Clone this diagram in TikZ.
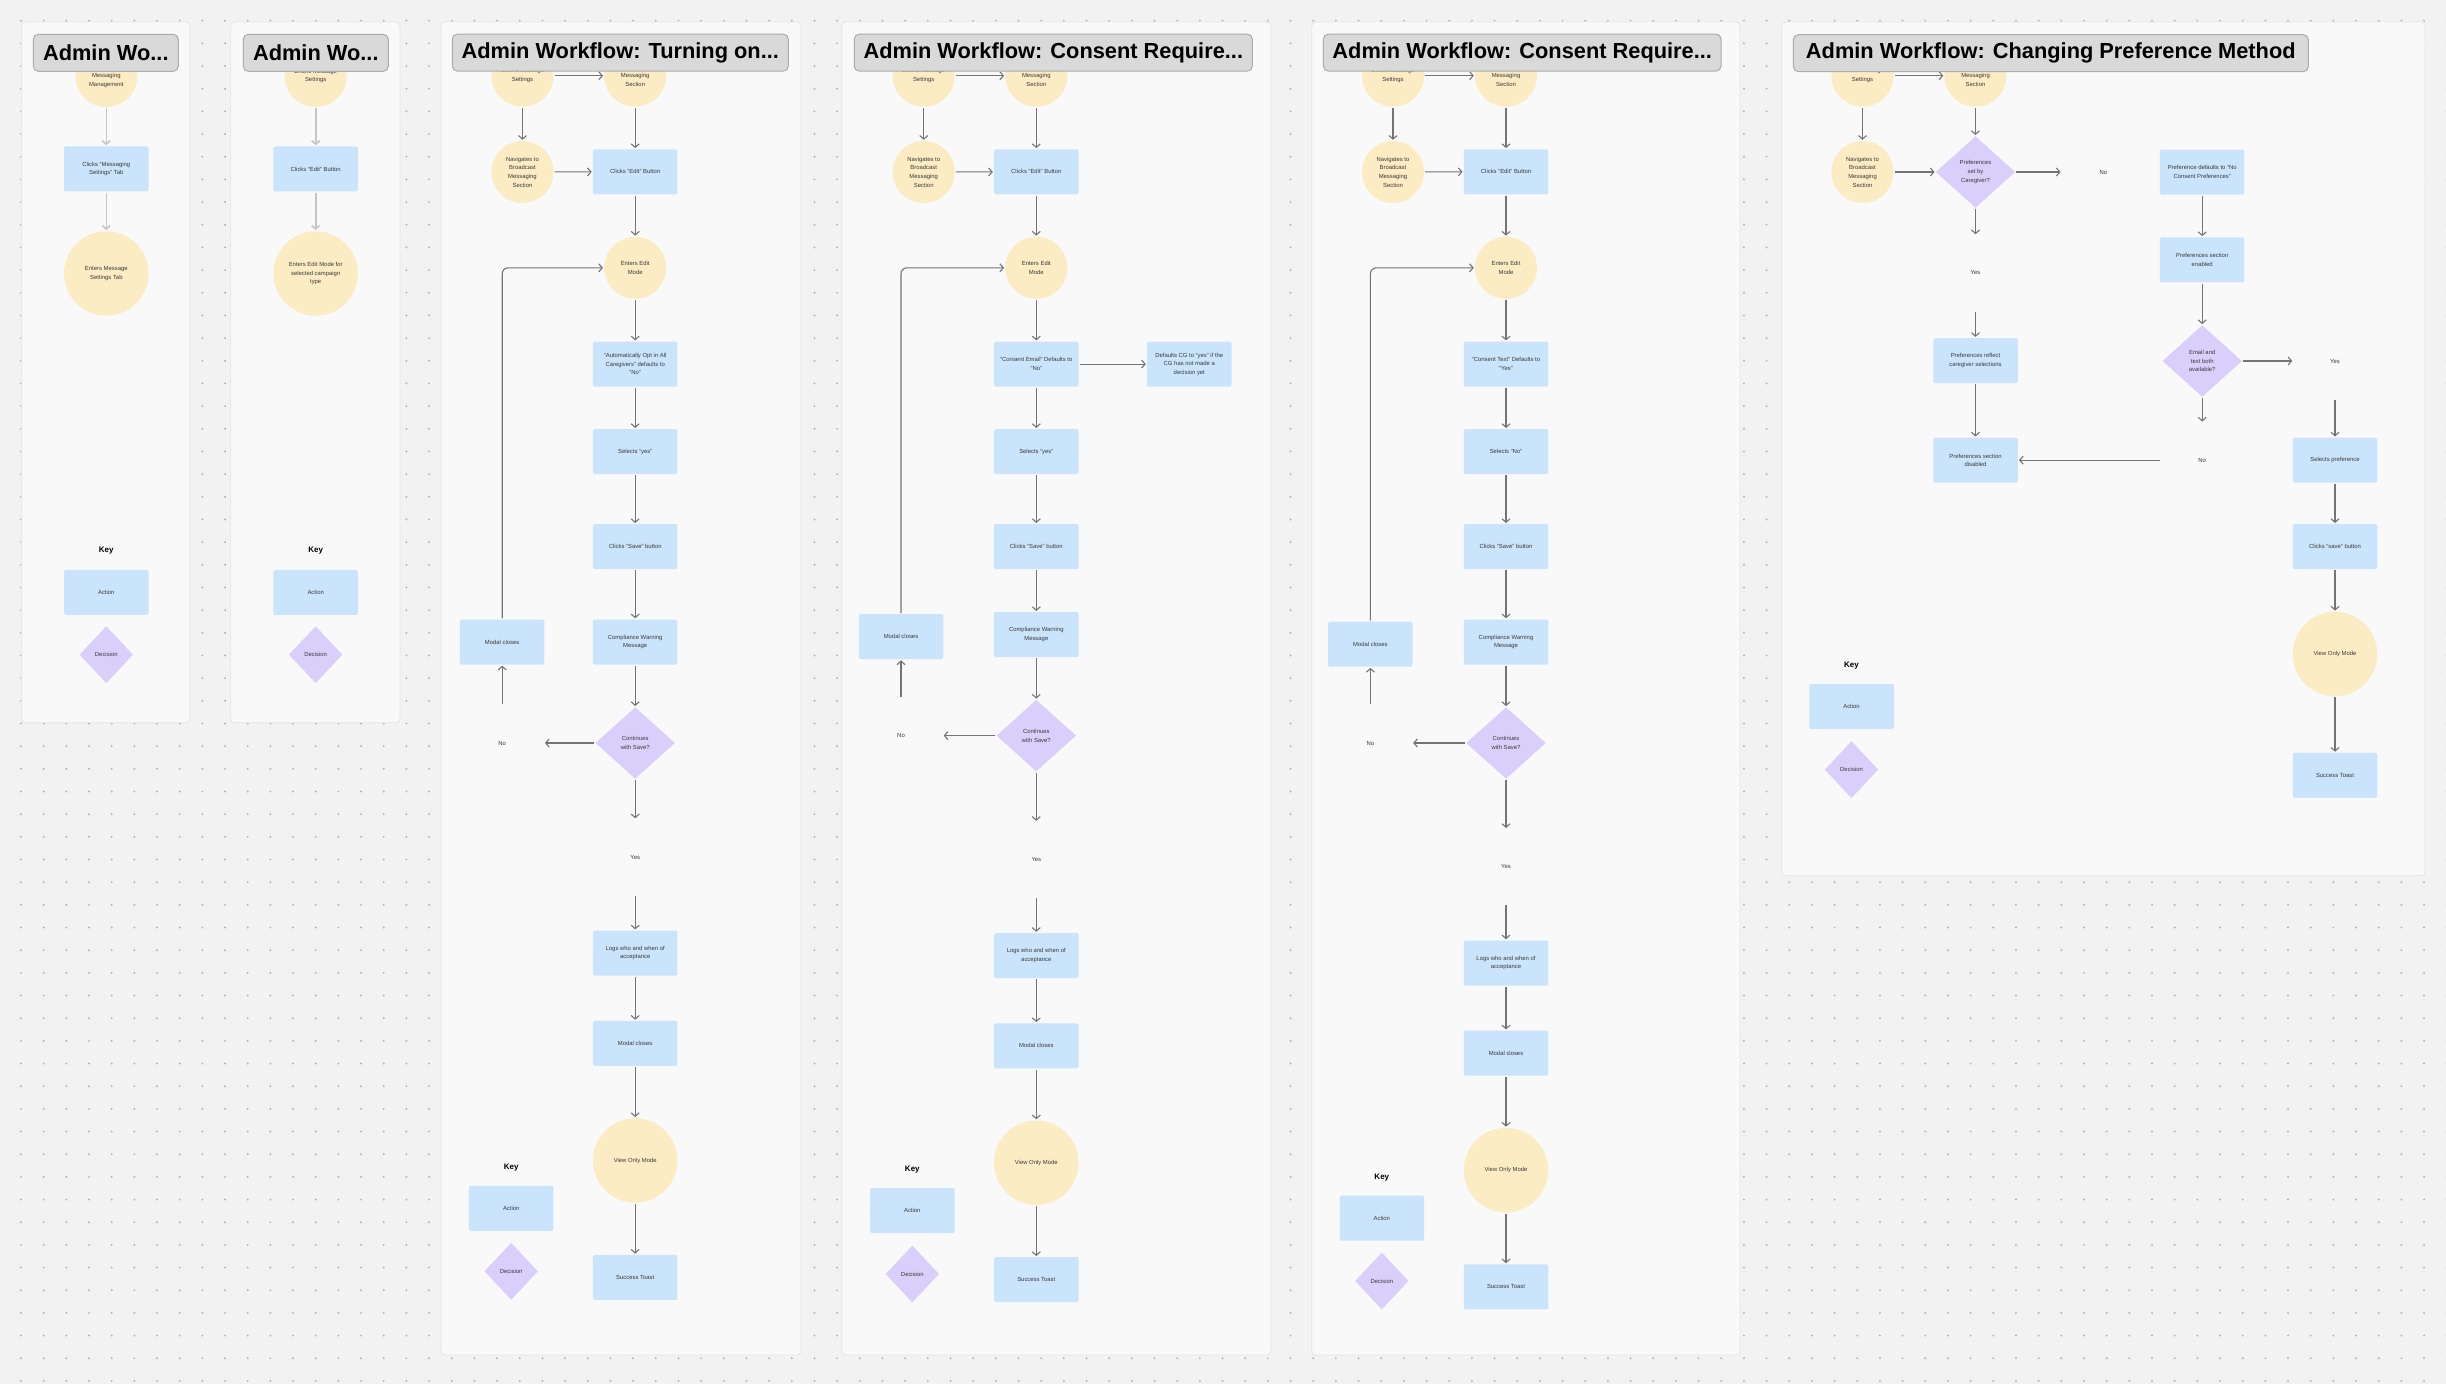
\documentclass[tikz,border=0pt]{standalone}
\usepackage{fontspec}
\setmainfont{Liberation Sans}
\usepackage{tikz}
\usetikzlibrary{arrows.meta,positioning,shapes.geometric}
\definecolor{canvas}{HTML}{F2F2F2}
\definecolor{panel}{HTML}{F9F9F9}
\definecolor{panelrule}{HTML}{E4E4E4}
\definecolor{griddot}{HTML}{B5B5B5}
\definecolor{actionfill}{HTML}{CAE4FB}
\definecolor{eventfill}{HTML}{FCECC4}
\definecolor{decisionfill}{HTML}{DACFFB}
\definecolor{titlefill}{HTML}{D9D9D9}
\definecolor{titlerule}{HTML}{ABABAB}
\definecolor{flow}{HTML}{747474}
\definecolor{flowlight}{HTML}{C6C6C6}
\definecolor{ink}{HTML}{3A3A3A}
\newcommand{\smalltext}{\fontsize{5.9}{8.6}\selectfont}

\begin{document}
\begin{tikzpicture}[x=1pt,y=-1pt,
    every node/.style={font=\smalltext,text=ink,align=center},
    actbox/.style={rectangle,fill=actionfill,rounded corners=1.5pt,minimum width=84.5pt,minimum height=45pt,inner sep=1pt},
    evtcircle/.style={circle,fill=eventfill,minimum size=62pt,inner sep=0pt},
    bigevt/.style={evtcircle,minimum size=84.5pt},
    decbox/.style={diamond,fill=decisionfill,minimum width=79.5pt,minimum height=71.5pt,inner sep=0pt},
    keydec/.style={diamond,fill=decisionfill,minimum width=53.5pt,minimum height=57pt,inner sep=0pt},
    answer/.style={minimum width=83pt,minimum height=75pt,inner sep=0pt},
    keyhead/.style={font=\fontsize{8}{9}\selectfont\bfseries,text=black},
    headbox/.style={rectangle,fill=titlefill,draw=titlerule,line width=1pt,rounded corners=5pt,minimum height=37pt,font=\fontsize{21.8}{24}\selectfont\bfseries,text=black},
    flowline/.style={draw=flow,line width=1.1pt,-{Straight Barb[length=3.5pt,width=8pt]},shorten >=1pt,shorten <=1pt},
    faintline/.style={flowline,draw=flowlight,line width=1.6pt}]

    \fill[canvas] (0,0) rectangle (2446,1384);
    \useasboundingbox (0,0) rectangle (2446,1384);
    \foreach \i in {0,...,107}
    {
        \foreach \j in {0,...,60}
        {
            \fill[griddot] ({21+22.67*\i},{20.7+22.67*\j}) circle (1.1pt);
        }
    }
    \foreach \xa/\ya/\xb/\yb in {21.7/22/190/722.7, 230.7/22/400/722.7, 441/22/801/1355,
                                 841.7/22/1271/1355, 1311.7/22/1740/1355, 1781.7/22/2425/875.7}
    {
        \draw[fill=panel,draw=panelrule,line width=0.8pt,rounded corners=4pt] (\xa,\ya) rectangle (\xb,\yb);
    }

    % messaging management
    \node[evtcircle] (mgmt) at (106.3,76) {};
    \node (mgmttxt) at ([yshift=-4.2pt]mgmt.center) {Messaging\\Management};
    \node[actbox] (msgtab) at (106.3,168.9) {Clicks “Messaging\\Settings” Tab};
    \node[bigevt] (msgset) at (106.3,273.5) {Enters Message\\Settings Tab};
    \draw[faintline] (mgmt) -- (msgtab);
    \draw[faintline] (msgtab) -- (msgset);
    \node[keyhead] (key1) at (106.3,551) {Key};
    \node[actbox] (keyact1) at (106.3,592.3) {Action};
    \node[keydec] (keydec1) at (106.3,654.7) {Decision};

    % edit mode
    \node[evtcircle] (enter2) at (315.7,76) {Enters Message\\Settings};
    \node[actbox] (edit2) at (315.7,168.9) {Clicks “Edit” Button};
    \node[bigevt] (mode2) at (315.7,273.5) {Enters Edit Mode for\\selected campaign\\type};
    \draw[faintline] (enter2) -- (edit2);
    \draw[faintline] (edit2) -- (mode2);
    \node[keyhead] (key2) at (315.7,551) {Key};
    \node[actbox] (keyact2) at (315.7,592.3) {Action};
    \node[keydec] (keydec2) at (315.7,654.7) {Decision};

    % turning on
    \node[evtcircle] (a3) at (522.5,75.7) {Enters Message\\Settings};
    \node[evtcircle] (b3) at (635.2,75.7) {};
    \node (b3txt) at ([yshift=-4.2pt]b3.center) {Messaging\\Section};
    \node[evtcircle] (c3) at (522.5,172) {Navigates to\\Broadcast\\Messaging\\Section};
    \node[actbox] (d3) at (635.2,171.8) {Clicks “Edit” Button};
    \node[evtcircle] (e3) at (635.2,267.8) {Enters Edit\\Mode};
    \node[actbox] (f3) at (635.2,364.1) {“Automatically Opt in All\\Caregivers” defaults to\\“No”};
    \node[actbox] (g3) at (635.2,451.7) {Selects “yes”};
    \node[actbox] (h3) at (635.2,546.7) {Clicks “Save” button};
    \node[actbox] (i3) at (635.2,642) {Compliance Warning\\Message};
    \node[actbox] (m3) at (502.2,642) {Modal closes};
    \node[decbox] (j3) at (635.2,743) {Continues\\with Save?};
    \node[answer] (no3) at (502.2,743) {No};
    \node[answer] (yes3) at (635.2,857) {Yes};
    \node[actbox] (k3) at (635.2,953.1) {Logs who and when of\\acceptance};
    \node[actbox] (l3) at (635.2,1043.4) {Modal closes};
    \node[bigevt] (v3) at (635.2,1160.5) {View Only Mode};
    \node[actbox] (s3) at (635.2,1277.4) {Success Toast};
    \foreach \u/\v in {a3/b3,a3/c3,c3/d3,b3/d3,d3/e3,e3/f3,f3/g3,g3/h3,h3/i3,i3/j3,
                       j3/no3,no3/m3,j3/yes3,yes3/k3,k3/l3,l3/v3,v3/s3}
    {
        \draw[flowline] (\u) -- (\v);
    }
    \draw[flowline,rounded corners=6pt] (m3.north) |- (e3.west);
    \node[keyhead] (key3) at (511.2,1167.6) {Key};
    \node[actbox] (keyact3) at (511.2,1208.3) {Action};
    \node[keydec] (keydec3) at (511.2,1271.3) {Decision};

    % consent email
    \node[evtcircle] (a4) at (923.7,75.7) {Enters Message\\Settings};
    \node[evtcircle] (b4) at (1036.3,75.7) {};
    \node (b4txt) at ([yshift=-4.2pt]b4.center) {Messaging\\Section};
    \node[evtcircle] (c4) at (923.7,172) {Navigates to\\Broadcast\\Messaging\\Section};
    \node[actbox] (d4) at (1036.3,171.8) {Clicks “Edit” Button};
    \node[evtcircle] (e4) at (1036.3,267.8) {Enters Edit\\Mode};
    \node[actbox] (f4) at (1036.3,364.1) {“Consent Email” Defaults to\\“No”};
    \node[actbox] (f4r) at (1189.3,364.1) {Defaults CG to “yes” if the\\CG has not made a\\decision yet};
    \node[actbox] (g4) at (1036.3,451.7) {Selects “yes”};
    \node[actbox] (h4) at (1036.3,546.7) {Clicks “Save” button};
    \node[actbox] (i4) at (1036.3,634.7) {Compliance Warning\\Message};
    \node[actbox] (m4) at (901,636.7) {Modal closes};
    \node[decbox] (j4) at (1036.3,735.6) {Continues\\with Save?};
    \node[answer] (no4) at (901,735.6) {No};
    \node[answer] (yes4) at (1036.3,859.5) {Yes};
    \node[actbox] (k4) at (1036.3,955.5) {Logs who and when of\\acceptance};
    \node[actbox] (l4) at (1036.3,1045.8) {Modal closes};
    \node[bigevt] (v4) at (1036.3,1162.7) {View Only Mode};
    \node[actbox] (s4) at (1036.3,1279.7) {Success Toast};
    \foreach \u/\v in {a4/b4,a4/c4,c4/d4,b4/d4,d4/e4,e4/f4,f4/f4r,f4/g4,g4/h4,h4/i4,i4/j4,
                       j4/no4,no4/m4,j4/yes4,yes4/k4,k4/l4,l4/v4,v4/s4}
    {
        \draw[flowline] (\u) -- (\v);
    }
    \draw[flowline,rounded corners=6pt] (m4.north) |- (e4.west);
    \node[keyhead] (key4) at (912.3,1170) {Key};
    \node[actbox] (keyact4) at (912.3,1210.5) {Action};
    \node[keydec] (keydec4) at (912.3,1274) {Decision};

    % consent text
    \node[evtcircle] (a5) at (1393,75.7) {Enters Message\\Settings};
    \node[evtcircle] (b5) at (1506,75.7) {};
    \node (b5txt) at ([yshift=-4.2pt]b5.center) {Messaging\\Section};
    \node[evtcircle] (c5) at (1393,172) {Navigates to\\Broadcast\\Messaging\\Section};
    \node[actbox] (d5) at (1506,171.8) {Clicks “Edit” Button};
    \node[evtcircle] (e5) at (1506,267.8) {Enters Edit\\Mode};
    \node[actbox] (f5) at (1506,364.1) {“Consent Text” Defaults to\\“Yes”};
    \node[actbox] (g5) at (1506,451.7) {Selects “No”};
    \node[actbox] (h5) at (1506,546.7) {Clicks “Save” button};
    \node[actbox] (i5) at (1506,642) {Compliance Warning\\Message};
    \node[actbox] (m5) at (1370.4,644.2) {Modal closes};
    \node[decbox] (j5) at (1506,743) {Continues\\with Save?};
    \node[answer] (no5) at (1370.4,743) {No};
    \node[answer] (yes5) at (1506,866.7) {Yes};
    \node[actbox] (k5) at (1506,963) {Logs who and when of\\acceptance};
    \node[actbox] (l5) at (1506,1053.1) {Modal closes};
    \node[bigevt] (v5) at (1506,1170.1) {View Only Mode};
    \node[actbox] (s5) at (1506,1286.9) {Success Toast};
    \foreach \u/\v in {a5/b5,a5/c5,c5/d5,b5/d5,d5/e5,e5/f5,f5/g5,g5/h5,h5/i5,i5/j5,
                       j5/no5,no5/m5,j5/yes5,yes5/k5,k5/l5,l5/v5,v5/s5}
    {
        \draw[flowline] (\u) -- (\v);
    }
    \draw[flowline,rounded corners=6pt] (m5.north) |- (e5.west);
    \node[keyhead] (key5) at (1381.8,1177.3) {Key};
    \node[actbox] (keyact5) at (1381.8,1218.1) {Action};
    \node[keydec] (keydec5) at (1381.8,1281) {Decision};

    % changing preference method
    \node[evtcircle] (a6) at (1862.5,75.7) {Enters Message\\Settings};
    \node[evtcircle] (b6) at (1975.5,75.7) {};
    \node (b6txt) at ([yshift=-4.2pt]b6.center) {Messaging\\Section};
    \node[evtcircle] (c6) at (1862.5,172) {Navigates to\\Broadcast\\Messaging\\Section};
    \node[decbox] (d6) at (1975.5,172) {Preferences\\set by\\Caregiver?};
    \node[answer] (no6a) at (2103.3,172) {No};
    \node[actbox] (p6) at (2202.2,172) {Preference defaults to “No\\Consent Preferences”};
    \node[actbox] (q6) at (2202.2,259.8) {Preferences section\\enabled};
    \node[decbox] (r6) at (2202.2,361) {Email and\\text both\\available?};
    \node[answer] (yes6b) at (2335,361) {Yes};
    \node[answer] (no6b) at (2202.2,460.2) {No};
    \node[answer] (yes6a) at (1975.5,272.9) {Yes};
    \node[actbox] (t6) at (1975.5,360.6) {Preferences reflect\\caregiver selections};
    \node[actbox] (s6) at (1975.5,460.2) {Preferences section\\disabled};
    \node[actbox] (u6) at (2335,460.2) {Selects preference};
    \node[actbox] (w6) at (2335,546.7) {Clicks “save” button};
    \node[bigevt] (v6) at (2335,654) {View Only Mode};
    \node[actbox] (x6) at (2335,775.4) {Success Toast};
    \foreach \u/\v in {a6/b6,a6/c6,c6/d6,b6/d6,d6/no6a,d6/yes6a,yes6a/t6,t6/s6,p6/q6,q6/r6,
                       r6/yes6b,r6/no6b,no6b/s6,yes6b/u6,u6/w6,w6/v6,v6/x6}
    {
        \draw[flowline] (\u) -- (\v);
    }
    \node[keyhead] (key6) at (1851.5,665.7) {Key};
    \node[actbox] (keyact6) at (1851.5,706.5) {Action};
    \node[keydec] (keydec6) at (1851.5,769.6) {Decision};

    \node[headbox,minimum width=145pt] (head1) at (105.8,52.8) {Admin Wo...};
    \node[headbox,minimum width=145pt] (head2) at (315.8,52.8) {Admin Wo...};
    \node[headbox,minimum width=336pt] (head3) at (620.3,52.6) {Admin Workflow: Turning on...};
    \node[headbox,minimum width=398pt] (head4) at (1053.3,52.6) {Admin Workflow: Consent Require...};
    \node[headbox,minimum width=397.7pt] (head5) at (1522.2,52.6) {Admin Workflow: Consent Require...};
    \node[headbox,minimum width=515pt] (head6) at (2050.8,53.2) {Admin Workflow: Changing Preference Method};
\end{tikzpicture}
\end{document}
